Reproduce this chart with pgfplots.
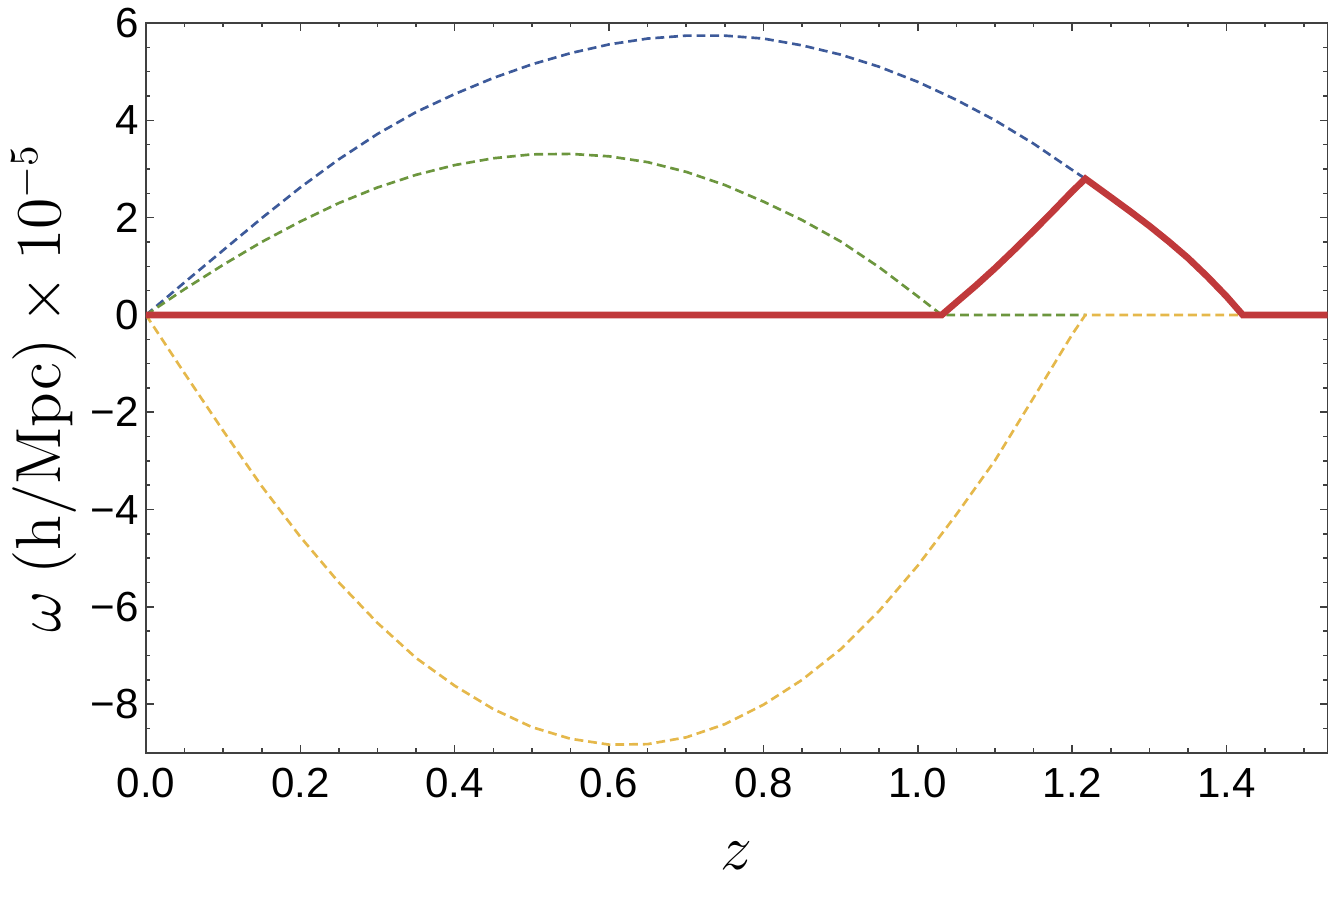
\documentclass[border=0pt]{standalone}
\usepackage[no-math]{fontspec}
\setmainfont{Liberation Sans}
\usepackage{pgfplots}
\pgfplotsset{compat=1.18}

\definecolor{cblue}{HTML}{3D5A9A}
\definecolor{cgreen}{HTML}{6C963E}
\definecolor{cyellow}{HTML}{E5B84B}
\definecolor{cred}{HTML}{C0393B}

\begin{document}
\begin{tikzpicture}
\begin{axis}[
    scale only axis,
    width=266.8pt, height=164.8pt,
    xmin=0, xmax=1.531, ymin=-9, ymax=6,
    xtick={0,0.2,0.4,0.6,0.8,1.0,1.2,1.4},
    xticklabels={0.0,0.2,0.4,0.6,0.8,1.0,1.2,1.4},
    ytick={-8,-6,-4,-2,0,2,4,6},
    yticklabels={−8,−6,−4,−2,0,2,4,6},
    minor xtick={0.05,0.1,0.15,0.25,0.3,0.35,0.45,0.5,0.55,0.65,0.7,0.75,0.85,0.9,0.95,1.05,1.1,1.15,1.25,1.3,1.35,1.45,1.5},
    minor ytick={-8.5,-7.5,-7,-6.5,-5.5,-5,-4.5,-3.5,-3,-2.5,-1.5,-1,-0.5,0.5,1,1.5,2.5,3,3.5,4.5,5,5.5},
    tick align=inside,
    major tick length=1.7pt, minor tick length=1pt,
    axis line style={black!75, line width=0.35pt},
    every tick/.style={black!75, line width=0.35pt},
    tick label style={font=\fontsize{9.5}{11}\selectfont},
    yticklabel style={inner xsep=1.5pt},
    xlabel={$z$},
    ylabel={$\omega\ (\mathrm{h/Mpc}) \times 10^{-5}$},
    label style={font=\fontsize{13.5}{16}\selectfont},
    xlabel style={at={(axis description cs:0.5,-0.141)}, anchor=center},
    ylabel style={at={(axis description cs:-0.0865,0.5)}, anchor=center},
    clip=true,
]
% blue dashed
\addplot[cblue, line width=0.6pt, dash pattern=on 2pt off 1.1pt] coordinates {
    (0,0) (0.05,0.67) (0.1,1.33) (0.15,1.99) (0.2,2.62) (0.25,3.2) (0.3,3.72)
    (0.35,4.17) (0.4,4.54) (0.45,4.87) (0.5,5.15) (0.55,5.38) (0.6,5.56)
    (0.65,5.68) (0.7,5.74) (0.75,5.74) (0.8,5.68) (0.85,5.54) (0.9,5.35)
    (0.95,5.10) (1.0,4.79) (1.05,4.42) (1.1,4.00) (1.15,3.52) (1.2,2.98) (1.217,2.80)
};
% green dashed
\addplot[cgreen, line width=0.6pt, dash pattern=on 2pt off 1.1pt] coordinates {
    (0,0) (0.05,0.53) (0.1,1.03) (0.15,1.5) (0.2,1.92) (0.25,2.3) (0.3,2.62)
    (0.35,2.88) (0.4,3.08) (0.45,3.22) (0.5,3.30) (0.55,3.31) (0.6,3.26)
    (0.65,3.14) (0.7,2.94) (0.75,2.67) (0.8,2.33) (0.85,1.95) (0.9,1.51)
    (0.95,0.98) (1.0,0.38) (1.031,0) (1.217,0)
};
% yellow dashed
\addplot[cyellow, line width=0.6pt, dash pattern=on 2pt off 1.1pt] coordinates {
    (0,0) (0.05,-1.2) (0.1,-2.38) (0.15,-3.52) (0.2,-4.56) (0.25,-5.5) (0.3,-6.33)
    (0.35,-7.05) (0.4,-7.62) (0.45,-8.1) (0.5,-8.47) (0.55,-8.71) (0.6,-8.83)
    (0.65,-8.82) (0.7,-8.68) (0.75,-8.41) (0.8,-8.01) (0.85,-7.5) (0.9,-6.87)
    (0.95,-6.08) (1.0,-5.15) (1.05,-4.1) (1.1,-2.99) (1.15,-1.7) (1.2,-0.4)
    (1.217,0) (1.421,0)
};
% red solid
\addplot[cred, line width=1.5pt] coordinates {
    (0,0) (1.031,0) (1.05,0.26) (1.075,0.6) (1.1,0.96) (1.125,1.34) (1.15,1.73)
    (1.175,2.13) (1.2,2.54) (1.217,2.80) (1.25,2.42) (1.275,2.13) (1.3,1.83)
    (1.325,1.51) (1.35,1.17) (1.375,0.79) (1.4,0.38) (1.421,0) (1.531,0)
};
\end{axis}
\pgfresetboundingbox
\path[use as bounding box] ([shift={(-32.96pt,-32.73pt)}]current axis.south west)
    rectangle ([shift={(0.3pt,5.19pt)}]current axis.north east);
\end{tikzpicture}
\end{document}
